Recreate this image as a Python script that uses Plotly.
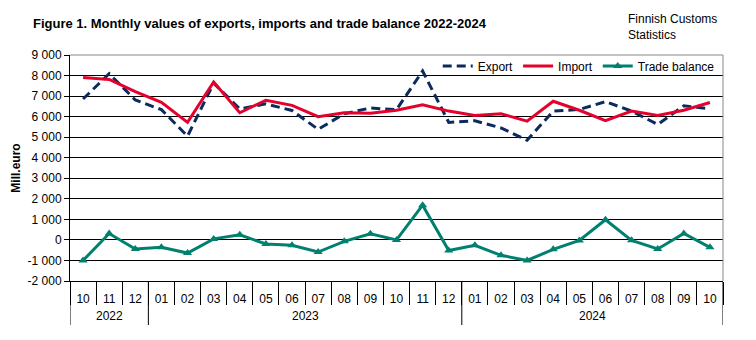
import plotly.graph_objects as go

years = ["2022", "2023", "2024"]
year_counts = [3, 12, 10]
months = ["10", "11", "12",
          "01", "02", "03", "04", "05", "06", "07", "08", "09", "10", "11", "12",
          "01", "02", "03", "04", "05", "06", "07", "08", "09", "10"]

export = [6860, 8090, 6810, 6340, 5050, 7630, 6380, 6620, 6300, 5380, 6140, 6420, 6340,
          8220, 5720, 5800, 5450, 4850, 6270, 6350, 6730, 6270, 5620, 6530, 6380]
imports = [7900, 7810, 7220, 6700, 5720, 7690, 6190, 6800, 6550, 6000, 6190, 6160, 6310,
           6580, 6270, 6060, 6140, 5780, 6750, 6310, 5810, 6270, 6060, 6310, 6690]
balance = [-1000, 310, -440, -360, -640, 50, 250, -200, -260, -590, -70, 300, 0,
           1690, -520, -260, -750, -1000, -460, -30, 980, -20, -440, 310, -360]

ytick_vals = [-2000, -1000, 0, 1000, 2000, 3000, 4000, 5000, 6000, 7000, 8000, 9000]
ytick_text = ["-2 000", "-1 000", "0", "1 000", "2 000", "3 000", "4 000", "5 000",
              "6 000", "7 000", "8 000", "9 000"]

FONT = "Liberation Sans, Arial, sans-serif"
n = len(months)
x = list(range(n))
boundaries = [i - 0.5 for i in range(n + 1)]

# year group boundaries and centres
year_edges = [-0.5]
for c in year_counts:
    year_edges.append(year_edges[-1] + c)
year_centres = [(year_edges[i] + year_edges[i + 1]) / 2 for i in range(len(years))]

fig = go.Figure()
fig.add_trace(go.Scatter(x=x, y=export, name="Export", mode="lines",
                         line=dict(color="#0B2A5E", width=3, dash="9px,5px")))
fig.add_trace(go.Scatter(x=x, y=imports, name="Import", mode="lines",
                         line=dict(color="#E4022D", width=3)))
fig.add_trace(go.Scatter(x=x, y=balance, name="Trade balance", mode="lines+markers",
                         line=dict(color="#00806F", width=3),
                         marker=dict(symbol="triangle-up", size=8, color="#00806F")))

PLOT_H = 340 - 55 - 59
shapes = [
    dict(type="line", xref="paper", yref="paper", x0=0, x1=1, y0=1, y1=1,
         line=dict(color="#888888", width=1), layer="above"),
    dict(type="line", xref="paper", yref="paper", x0=1, x1=1, y0=0, y1=1,
         line=dict(color="#888888", width=1), layer="above"),
]
for e in year_edges:
    shapes.append(dict(type="line", xref="x", yref="paper", x0=e, x1=e,
                       y0=0, y1=-44 / PLOT_H, line=dict(color="black", width=1)))

annotations = [dict(text="Finnish Customs<br>Statistics", xref="paper", yref="paper",
                    x=(626 - 70) / 653, y=(281 - 27) / PLOT_H, xanchor="left", yanchor="middle",
                    showarrow=False, align="left", font=dict(size=12, family=FONT))]
for yr, xc in zip(years, year_centres):
    annotations.append(dict(text=yr, xref="x", yref="paper", x=xc, y=-35 / PLOT_H,
                            xanchor="center", yanchor="middle", showarrow=False,
                            font=dict(size=12, family=FONT, color="black")))

fig.update_layout(
    width=756, height=340,
    margin=dict(l=70, r=33, t=55, b=59),
    paper_bgcolor="white", plot_bgcolor="white",
    font=dict(family=FONT, size=12, color="black"),
    title=dict(text="<b>Figure 1. Monthly values of exports, imports and trade balance 2022-2024</b>",
               x=33 / 756, xanchor="left", xref="container",
               y=1 - 23 / 340, yanchor="middle", yref="container",
               font=dict(size=13, family=FONT, color="black")),
    showlegend=True,
    legend=dict(orientation="h", x=0.995, xanchor="right", y=0.951, yanchor="middle",
                bgcolor="rgba(0,0,0,0)", font=dict(size=12), itemwidth=30,
                tracegroupgap=0),
    annotations=annotations,
    shapes=shapes,
)

fig.update_yaxes(range=[-2000, 9000], tickvals=ytick_vals, ticktext=ytick_text,
                 showline=True, linecolor="black", linewidth=1,
                 showgrid=True, gridcolor="black", gridwidth=1, zeroline=False,
                 ticks="outside", ticklen=5, tickcolor="black",
                 title=dict(text="<b>Mill.euro</b>", standoff=4, font=dict(size=12)),
                 tickfont=dict(size=12))
fig.update_xaxes(range=[-0.5, n - 0.5], tickvals=x, ticktext=months,
                 showline=True, linecolor="black", linewidth=1,
                 showgrid=False, zeroline=False, ticks="", ticklabelstandoff=7,
                 minor=dict(tickvals=boundaries, ticks="outside", ticklen=23,
                            tickcolor="black", tickwidth=1, showgrid=False),
                 tickfont=dict(size=12))

fig.write_html("out.html")
